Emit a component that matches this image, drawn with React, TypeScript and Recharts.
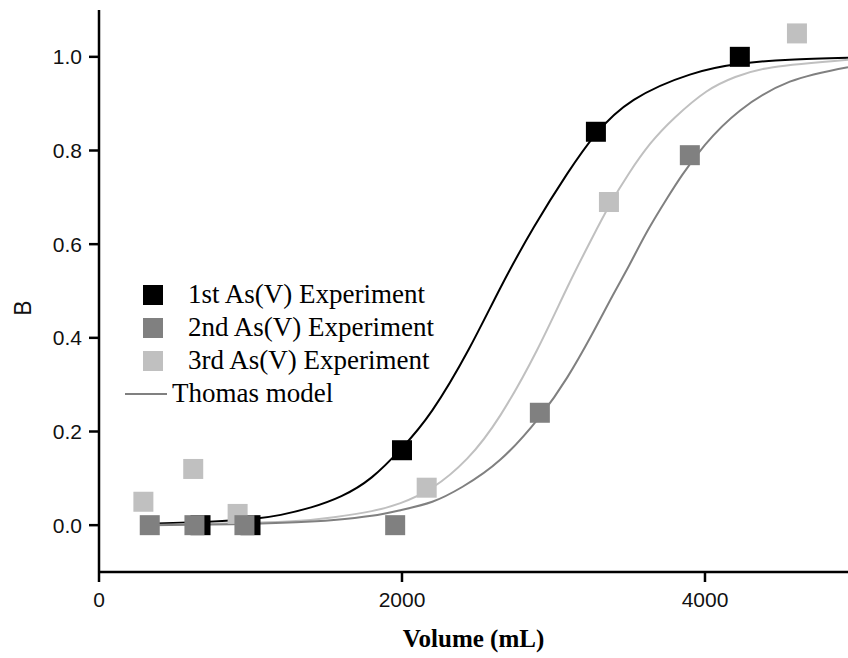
import { ComposedChart, Line, Scatter, XAxis, YAxis, Legend, Label } from 'recharts'

// measured breakthrough points, volume in mL, B = C/C0
const exp1Volume = [670, 1000, 2000, 3280, 4230]
const exp1B = [0, 0, 0.16, 0.84, 1.0]
const exp2Volume = [335, 630, 960, 1955, 2910, 3900]
const exp2B = [0, 0, 0, 0, 0.24, 0.79]
const exp3Volume = [293, 622, 915, 2163, 3366, 4607]
const exp3B = [0.05, 0.12, 0.024, 0.08, 0.69, 1.05]

// Thomas model curves
const fit1Volume = [330, 700, 1000, 1200, 1400, 1600, 1800, 2000, 2200, 2440, 2650, 2870, 3090, 3280, 3530, 3900, 4230, 4560, 4944]
const fit1B = [0.003, 0.007, 0.013, 0.022, 0.038, 0.062, 0.102, 0.165, 0.245, 0.375, 0.507, 0.636, 0.75, 0.835, 0.908, 0.962, 0.985, 0.994, 0.998]
const fit2Volume = [330, 880, 1300, 1550, 1800, 1990, 2200, 2400, 2650, 2910, 3090, 3250, 3390, 3500, 3620, 3750, 3850, 4000, 4230, 4560, 4944]
const fit2B = [0.0, 0.002, 0.006, 0.011, 0.02, 0.032, 0.05, 0.082, 0.14, 0.232, 0.315, 0.405, 0.49, 0.555, 0.628, 0.698, 0.748, 0.812, 0.885, 0.947, 0.978]
const fit3Volume = [290, 880, 1300, 1550, 1800, 1990, 2200, 2430, 2650, 2890, 3090, 3250, 3370, 3500, 3640, 3800, 4010, 4200, 4450, 4944]
const fit3B = [0.0, 0.004, 0.009, 0.017, 0.03, 0.047, 0.08, 0.142, 0.235, 0.373, 0.507, 0.61, 0.683, 0.752, 0.815, 0.87, 0.926, 0.957, 0.978, 0.994]

const xTicks = [0, 2000, 4000]
const yTicks = [0, 0.2, 0.4, 0.6, 0.8, 1.0]

const BLACK = '#000000'
const DARK = '#808080'
const LIGHT = '#c0c0c0'

const zip = (xs: number[], ys: number[]) => xs.map((x, i) => ({ x, b: ys[i] }))

const legendItems = [
  { label: '1st As(V) Experiment', color: BLACK, kind: 'square' },
  { label: '2nd As(V) Experiment', color: DARK, kind: 'square' },
  { label: '3rd As(V) Experiment', color: LIGHT, kind: 'square' },
  { label: 'Thomas model', color: DARK, kind: 'line' },
]

const serif = '"Liberation Serif", "Times New Roman", serif'
const sans = '"Liberation Sans", Arial, sans-serif'

const square = (color: string) => (props: any) => (
  <rect x={props.cx - 10} y={props.cy - 10} width={20} height={20} fill={color} />
)

function ChartLegend() {
  return (
    <div style={{ fontFamily: serif, fontSize: 27, color: '#000' }}>
      {legendItems.map(item => (
        <div key={item.label} style={{ display: 'flex', alignItems: 'center', height: 33, whiteSpace: 'nowrap' }}>
          {item.kind === 'square' ? (
            <span style={{ display: 'inline-block', width: 20, height: 20, background: item.color, marginLeft: 18, marginRight: 25 }} />
          ) : (
            <span style={{ display: 'inline-block', width: 42, height: 2, background: item.color, marginRight: 5 }} />
          )}
          <span>{item.label}</span>
        </div>
      ))}
    </div>
  )
}

export default function App() {
  const tick = { fontSize: 21, fill: '#111', fontFamily: sans }
  return (
    <div style={{ position: 'absolute', left: 0, top: 0, width: 848, height: 658, background: '#fff' }}>
      <ComposedChart width={848} height={658} margin={{ top: 10, right: 0, bottom: 0, left: 0 }}>
        <XAxis
          type="number"
          dataKey="x"
          domain={[0, 4944]}
          ticks={xTicks}
          height={86}
          tick={tick}
          tickSize={10}
          tickMargin={10}
          axisLine={{ stroke: '#000', strokeWidth: 2.5 }}
          tickLine={{ stroke: '#000', strokeWidth: 2.5 }}
        >
          <Label
            value="Volume (mL)"
            position="insideBottom"
            offset={11}
            style={{ fontFamily: serif, fontSize: 25, fontWeight: 'bold', fill: '#000' }}
          />
        </XAxis>
        <YAxis
          type="number"
          dataKey="b"
          domain={[-0.1, 1.1]}
          ticks={yTicks}
          width={99}
          tick={tick}
          tickFormatter={(v: number) => v.toFixed(1)}
          tickSize={10}
          tickMargin={7}
          axisLine={{ stroke: '#000', strokeWidth: 2.5 }}
          tickLine={{ stroke: '#000', strokeWidth: 2.5 }}
        >
          <Label
            content={() => (
              <text x={23} y={308} transform="rotate(-90, 23, 308)" textAnchor="middle" dominantBaseline="central" fontSize={23} fontFamily={sans} fill="#111">
                B
              </text>
            )}
          />
        </YAxis>
        <Legend
          layout="vertical"
          align="center"
          verticalAlign="middle"
          content={() => <ChartLegend />}
          wrapperStyle={{ left: 125, top: 278, width: 360 }}
        />
        <Line data={zip(fit1Volume, fit1B)} dataKey="b" type="natural" stroke={BLACK} strokeWidth={2} dot={false} legendType="none" isAnimationActive={false} />
        <Line data={zip(fit3Volume, fit3B)} dataKey="b" type="natural" stroke={LIGHT} strokeWidth={2} dot={false} legendType="none" isAnimationActive={false} />
        <Line data={zip(fit2Volume, fit2B)} dataKey="b" type="natural" stroke={DARK} strokeWidth={2} dot={false} legendType="none" isAnimationActive={false} />
        <Scatter data={zip(exp1Volume, exp1B)} dataKey="b" shape={square(BLACK)} isAnimationActive={false} />
        <Scatter data={zip(exp3Volume, exp3B)} dataKey="b" shape={square(LIGHT)} isAnimationActive={false} />
        <Scatter data={zip(exp2Volume, exp2B)} dataKey="b" shape={square(DARK)} isAnimationActive={false} />
      </ComposedChart>
    </div>
  )
}
